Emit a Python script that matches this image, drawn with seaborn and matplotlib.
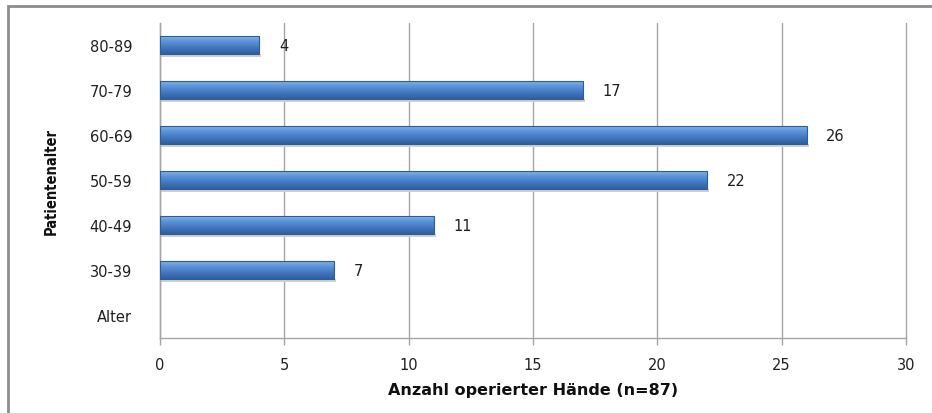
import numpy as np
import pandas as pd
import matplotlib
matplotlib.use("Agg")
import matplotlib.pyplot as plt
import seaborn as sns
from matplotlib.colors import LinearSegmentedColormap
from matplotlib.patches import Rectangle

# Age groups (top to bottom) and number of operated hands
age_groups = ["80-89", "70-79", "60-69", "50-59", "40-49", "30-39", "Alter"]
hands = [4, 17, 26, 22, 11, 7, np.nan]
x_ticks = [0, 5, 10, 15, 20, 25, 30]

df = pd.DataFrame({"Altersgruppe": age_groups, "Haende": hands})

sns.set_theme(style="white")
plt.rcParams["font.family"] = ["DejaVu Sans"]

fig = plt.figure(figsize=(9.32, 4.14), dpi=100)
ax = fig.add_axes([0.1717, 0.1812, 0.8004, 0.7610])

sns.barplot(data=df, x="Haende", y="Altersgruppe", order=age_groups,
            color="#4A84CC", width=0.4, edgecolor="#2E5C96", linewidth=0.8,
            ax=ax, zorder=3)

# Give each bar a shaded, rounded-looking fill
shade = LinearSegmentedColormap.from_list(
    "shade", ["#8DB9EC", "#5A93D8", "#4177BE", "#2F5F9E"])
grad = np.linspace(0, 1, 64).reshape(-1, 1)
for patch in ax.patches:
    w = patch.get_width()
    if not np.isfinite(w) or w <= 0:
        continue
    x0, y0 = patch.get_x(), patch.get_y()
    h = patch.get_height()
    # soft shadow below the bar
    ax.add_patch(Rectangle((x0, y0 + h), w + 0.08, 0.06, facecolor="#D0D0D0",
                           edgecolor="none", zorder=2))
    im = ax.imshow(grad, cmap=shade, aspect="auto",
                   extent=[x0, x0 + w, y0 + h, y0], zorder=4,
                   interpolation="bilinear")
    im.set_clip_path(patch)
    patch.set_zorder(5)
    patch.set_facecolor("none")

# Value labels at the bar ends
for i, v in enumerate(hands):
    if np.isfinite(v):
        ax.annotate(f"{int(v)}", xy=(v, i), xytext=(14, 0),
                    textcoords="offset points", va="center", ha="left",
                    fontsize=10.5, color="#202020")

ax.set_xlim(0, 30)
ax.set_ylim(len(age_groups) - 0.5, -0.5)
ax.set_xticks(x_ticks)
ax.set_xticklabels([str(t) for t in x_ticks])
ax.xaxis.grid(True, color="#A6A6A6", linewidth=1.0, zorder=0)
ax.yaxis.grid(False)
ax.set_axisbelow(True)
for line in ax.get_xgridlines():
    line.set_clip_on(False)

for side in ("top", "right"):
    ax.spines[side].set_visible(False)
for side in ("left", "bottom"):
    ax.spines[side].set_color("#A6A6A6")
    ax.spines[side].set_linewidth(1.0)

ax.tick_params(axis="x", which="major", length=5, width=1.0, color="#A6A6A6",
               direction="out", bottom=True, labelsize=10.5, pad=9,
               labelcolor="#202020")
ax.tick_params(axis="y", length=0, labelsize=10.5, pad=20, labelcolor="#202020")

ax.set_xlabel("Anzahl operierter Hände (n=87)", fontsize=11.5,
              fontweight="bold", labelpad=7, color="#101010")
ax.set_ylabel("Patientenalter", fontsize=10.5, family="DejaVu Sans",
              fontstretch="condensed", fontweight="bold", color="#101010")
ax.yaxis.set_label_coords(-0.136, 0.5)

# Outer chart frame
fig.add_artist(Rectangle((8 / 932, -0.05), 1.2, 1 - 7 / 414 + 0.05,
                         transform=fig.transFigure, facecolor="none",
                         edgecolor="#8C8C8C", linewidth=2.0))

fig.savefig("out.png", dpi=100)
